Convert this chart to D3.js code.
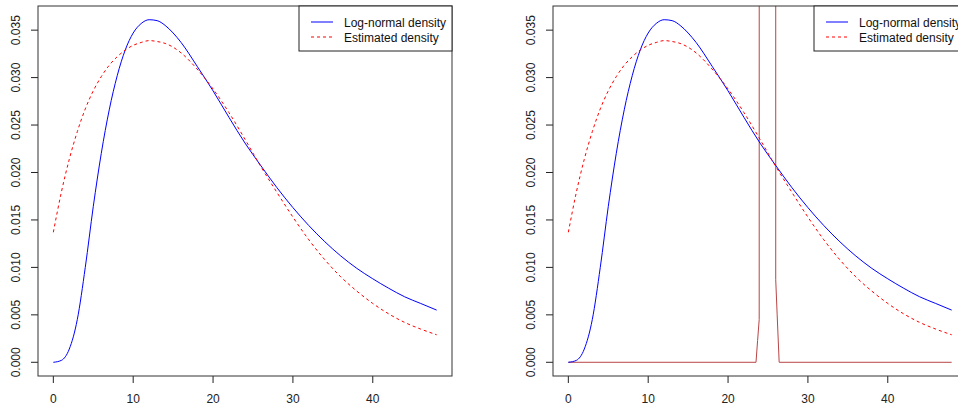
<!DOCTYPE html>
<html>
<head>
<meta charset="utf-8">
<script src="https://cdn.jsdelivr.net/npm/d3@7"></script>
<style>
	body { margin: 0; background: #fff; }
	svg { display: block; font-family: "Liberation Sans", Arial, sans-serif; }
</style>
</head>
<body>
<div id="chart"></div>
<script>
// x grid the curves were read at
var xs = [0, 1, 2, 3, 4, 5, 6, 7, 8, 9, 10, 11, 12, 13, 14, 15, 16, 18, 20, 22, 24, 26, 28, 30, 32, 34, 36, 38, 40, 42, 44, 46, 48];

// log-normal density (solid blue)
var lognormal = [0, 0.0002, 0.0014, 0.0045, 0.0100, 0.0164, 0.0220, 0.0266, 0.0302, 0.0329, 0.0347, 0.0357, 0.0361, 0.0360, 0.0355, 0.0347, 0.0337,
	0.0312, 0.0286, 0.0258, 0.0231, 0.0207, 0.0184, 0.0163, 0.0144, 0.0127, 0.0112, 0.0099, 0.0088, 0.0078, 0.0069, 0.0062, 0.0055];

// estimated density (dashed red)
var estimated = [0.0137, 0.0179, 0.0214, 0.0243, 0.0267, 0.0286, 0.0301, 0.0313, 0.0322, 0.0329, 0.0334, 0.0337, 0.0339, 0.0338, 0.0336, 0.0332, 0.0326,
	0.0309, 0.0288, 0.0263, 0.0235, 0.0206, 0.0179, 0.0153, 0.0129, 0.0108, 0.0090, 0.0075, 0.0062, 0.0051, 0.0042, 0.0035, 0.0029];

// narrow spike drawn only on the second panel (goes far off the top)
var spikeX = [0, 23.5, 23.7, 23.9, 24.02, 25.95, 25.97, 26.15, 26.4, 48];
var spikeY = [0, 0, 0.0023, 0.0045, 1, 1, 0.0087, 0.005, 0, 0];

var xTicks = [0, 10, 20, 30, 40];
var yTicks = [0, 0.005, 0.010, 0.015, 0.020, 0.025, 0.030, 0.035];
var legendLabels = ['Log-normal density', 'Estimated density'];

var width = 958,
	height = 407,
	panelShift = 515,
	plot = { left: 38, top: 6, width: 414, height: 370 },
	tickLen = 7;

var blue = '#0000ff',
	red = '#ff0000',
	spikeColor = '#b84545';

// R style 4% padding on both axes
var xMin = d3.min(xs), xMax = d3.max(xs);
var xPad = (xMax - xMin) * 0.04;
var yMax = d3.max(lognormal);
var yPad = yMax * 0.04;

var x = d3.scaleLinear()
	.domain([xMin - xPad, xMax + xPad])
	.range([0, plot.width]);

var y = d3.scaleLinear()
	.domain([0 - yPad, yMax + yPad])
	.range([plot.height, 0]);

var svg = d3.select('#chart').append('svg')
	.attr('width', width)
	.attr('height', height);

var smooth = d3.line()
	.x(function(d) { return x(d[0]); })
	.y(function(d) { return y(d[1]); })
	.curve(d3.curveMonotoneX);

var straight = d3.line()
	.x(function(d) { return x(d[0]); })
	.y(function(d) { return y(d[1]); });

function drawPanel(offset, idx, withSpike) {
	var g = svg.append('g')
		.attr('transform', 'translate(' + (offset + plot.left) + ',' + plot.top + ')');

	g.append('clipPath')
		.attr('id', 'clip' + idx)
		.append('rect')
		.attr('width', plot.width)
		.attr('height', plot.height);

	var lines = g.append('g').attr('clip-path', 'url(#clip' + idx + ')');

	if (withSpike) {
		lines.append('path')
			.datum(d3.zip(spikeX, spikeY))
			.attr('d', straight)
			.attr('fill', 'none')
			.attr('stroke', spikeColor)
			.attr('stroke-width', 1);
	}

	lines.append('path')
		.datum(d3.zip(xs, lognormal))
		.attr('d', smooth)
		.attr('fill', 'none')
		.attr('stroke', blue)
		.attr('stroke-width', 1);

	lines.append('path')
		.datum(d3.zip(xs, estimated))
		.attr('d', smooth)
		.attr('fill', 'none')
		.attr('stroke', red)
		.attr('stroke-width', 1)
		.attr('stroke-dasharray', '3,3');

	// x axis
	var xa = g.append('g').attr('transform', 'translate(0,' + plot.height + ')');
	xa.selectAll('line').data(xTicks).enter().append('line')
		.attr('x1', function(d) { return x(d); })
		.attr('x2', function(d) { return x(d); })
		.attr('y1', 0)
		.attr('y2', tickLen)
		.attr('stroke', '#222');
	xa.selectAll('text').data(xTicks).enter().append('text')
		.attr('x', function(d) { return x(d); })
		.attr('y', 23)
		.attr('dy', '0.35em')
		.attr('text-anchor', 'middle')
		.attr('font-size', 12)
		.attr('fill', '#222')
		.text(function(d) { return d; });

	// y axis, labels turned like R's default
	var ya = g.append('g');
	ya.selectAll('line').data(yTicks).enter().append('line')
		.attr('x1', 0)
		.attr('x2', -tickLen)
		.attr('y1', function(d) { return y(d); })
		.attr('y2', function(d) { return y(d); })
		.attr('stroke', '#222');
	ya.selectAll('text').data(yTicks).enter().append('text')
		.attr('transform', function(d) { return 'translate(-22,' + y(d) + ') rotate(-90)'; })
		.attr('dy', '0.35em')
		.attr('text-anchor', 'middle')
		.attr('font-size', 12)
		.attr('fill', '#222')
		.text(d3.format('.3f'));

	// frame
	g.append('rect')
		.attr('width', plot.width)
		.attr('height', plot.height)
		.attr('fill', 'none')
		.attr('stroke', '#333');

	// legend, top right
	var lw = 153, lh = 45;
	var lg = g.append('g').attr('transform', 'translate(' + (plot.width - lw) + ',0)');
	lg.append('rect')
		.attr('width', lw)
		.attr('height', lh)
		.attr('fill', '#fff')
		.attr('stroke', '#222');
	lg.selectAll('line').data(legendLabels).enter().append('line')
		.attr('x1', 12)
		.attr('x2', 34)
		.attr('y1', function(d, i) { return 16 + i * 15; })
		.attr('y2', function(d, i) { return 16 + i * 15; })
		.attr('stroke', function(d, i) { return i ? red : blue; })
		.attr('stroke-dasharray', function(d, i) { return i ? '3,3' : null; });
	lg.selectAll('text').data(legendLabels).enter().append('text')
		.attr('x', 45)
		.attr('y', function(d, i) { return 17 + i * 15; })
		.attr('dy', '0.35em')
		.attr('font-size', 12)
		.attr('fill', '#111')
		.text(function(d) { return d; });
}

drawPanel(0, 0, false);
drawPanel(panelShift, 1, true);
</script>
</body>
</html>
